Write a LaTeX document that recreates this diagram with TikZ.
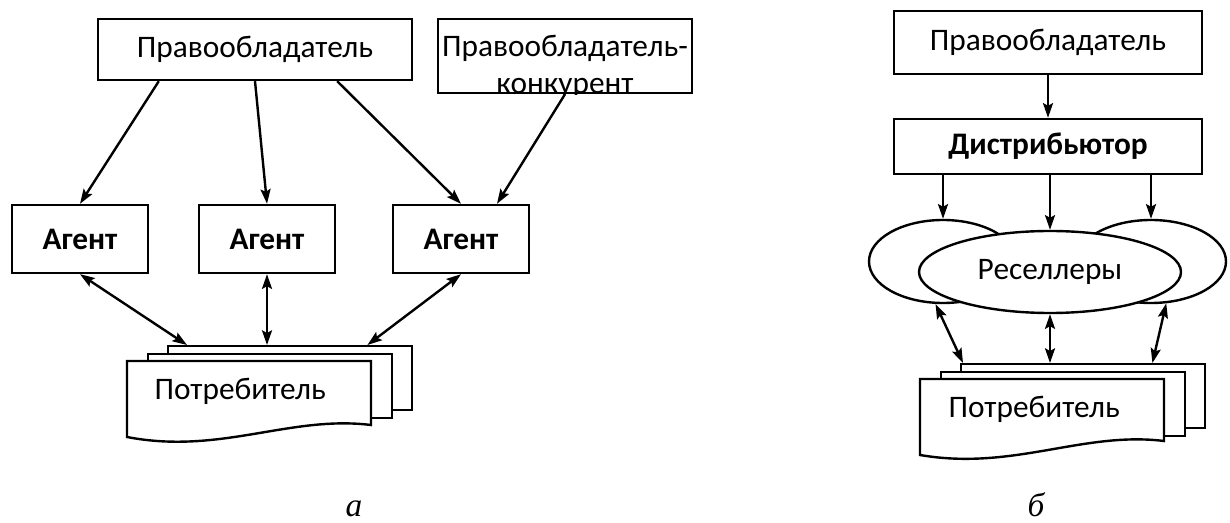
\documentclass[tikz,border=0pt]{standalone}
\usepackage{fontspec}
\setmainfont{Carlito}
\newfontfamily\letterfont{Liberation Serif}
\usetikzlibrary{positioning, shapes.geometric, arrows.meta}

\begin{document}
\begin{tikzpicture}[x=0.75pt, y=-0.75pt, line width=1.8pt,
  >={Stealth[length=11pt, width=7.5pt, inset=2pt]},
  textfont/.style={font=\fontsize{23.5}{27.5}\selectfont},
  boldfont/.style={font=\fontsize{23.5}{27.5}\selectfont\bfseries},
  owner/.style={draw, rectangle, fill=white, textfont, minimum width=235.5pt, minimum height=45.75pt, inner sep=0pt},
  agent/.style={draw, rectangle, boldfont, minimum width=102pt, minimum height=51pt, inner sep=0pt},
  page/.style={draw, rectangle, fill=white, minimum width=183pt, minimum height=48pt, anchor=north west, inner sep=0pt},
  reseller/.style={draw, ellipse, fill=white, textfont, inner sep=0pt, minimum height=62.25pt},
  caption/.style={font=\letterfont\itshape\fontsize{25}{30}\selectfont, anchor=base}]
  \useasboundingbox (0,0) rectangle (1230,523);

  % a: agents
  \node[owner] (ownerL) at (255,49.5) {Правообладатель};
  \node[owner, minimum width=190.5pt, minimum height=55.5pt] (rival) at (565,56) {};
  \begin{scope}
    \clip (rival.south west) rectangle (rival.north east);
    \node[textfont, align=center, anchor=north, inner sep=0pt] (rivaltext) at (565,34) {Правообладатель-\\конкурент};
  \end{scope}

  \node[agent] (ag1) at (80,239) {Агент};
  \node[agent] (ag2) at (267,239) {Агент};
  \node[agent] (ag3) at (461,239) {Агент};

  \node[page] (consL3) at (167,345) {};
  \node[page] (consL2) at (147,353) {};
  \draw[fill=white, shift={(127,361)}] (0,0) -- (244,0) -- (244,64) .. controls (163,54) and (93,94) .. (0,76) -- cycle;
  \node[textfont, anchor=base west] (consL) at (149,399) {Потребитель};

  \path[->]
    ([xshift=46.5pt]ownerL.south west) edge (ag1.north)
    (ownerL.south) edge (ag2.north)
    ([xshift=-57pt]ownerL.south east) edge (ag3.north)
    (rival.south) edge ([xshift=27pt]ag3.north);
  \path[<->]
    (ag1.south) edge ([xshift=15pt]consL3.north west)
    (ag2.south) edge (ag2.south |- consL3.north)
    (ag3.south) edge ([xshift=-34.5pt]consL3.north east);

  % b: distributor
  \node[owner, minimum width=231pt, minimum height=47.25pt] (ownerR) at (1048,42.5) {Правообладатель};
  \node[owner, boldfont, minimum width=231pt, minimum height=41.25pt] (dist) at (1048,146.5) {Дистрибьютор};
  \node[reseller, minimum width=111pt] (resL) at (943,261.5) {};
  \node[reseller, minimum width=112.5pt] (resR) at (1151,261.5) {};
  \node[reseller, minimum width=196.5pt, minimum height=61.5pt] (res) at (1050,272) {Реселлеры};

  \node[page] (consR3) at (960,363) {};
  \node[page] (consR2) at (940,371) {};
  \draw[fill=white, shift={(920,379)}] (0,0) -- (244,0) -- (244,62) .. controls (163,52) and (93,92) .. (0,76) -- cycle;
  \node[textfont, anchor=base west] (consR) at (943,417) {Потребитель};

  \path[->]
    (ownerR.south) edge (dist.north)
    (resL.north |- dist.south) edge (resL.north)
    (res.north |- dist.south) edge (res.north)
    (resR.north |- dist.south) edge (resR.north);
  \path[<->]
    (resL.260) edge ([xshift=2.25pt]consR3.north west)
    (res.south) edge (res.south |- consR3.north)
    (resR.290) edge ([xshift=-40.5pt]consR3.north east);

  \node[caption] (capA) at (354,516) {а};
  \node[caption] (capB) at (1036,516) {б};
\end{tikzpicture}
\end{document}
